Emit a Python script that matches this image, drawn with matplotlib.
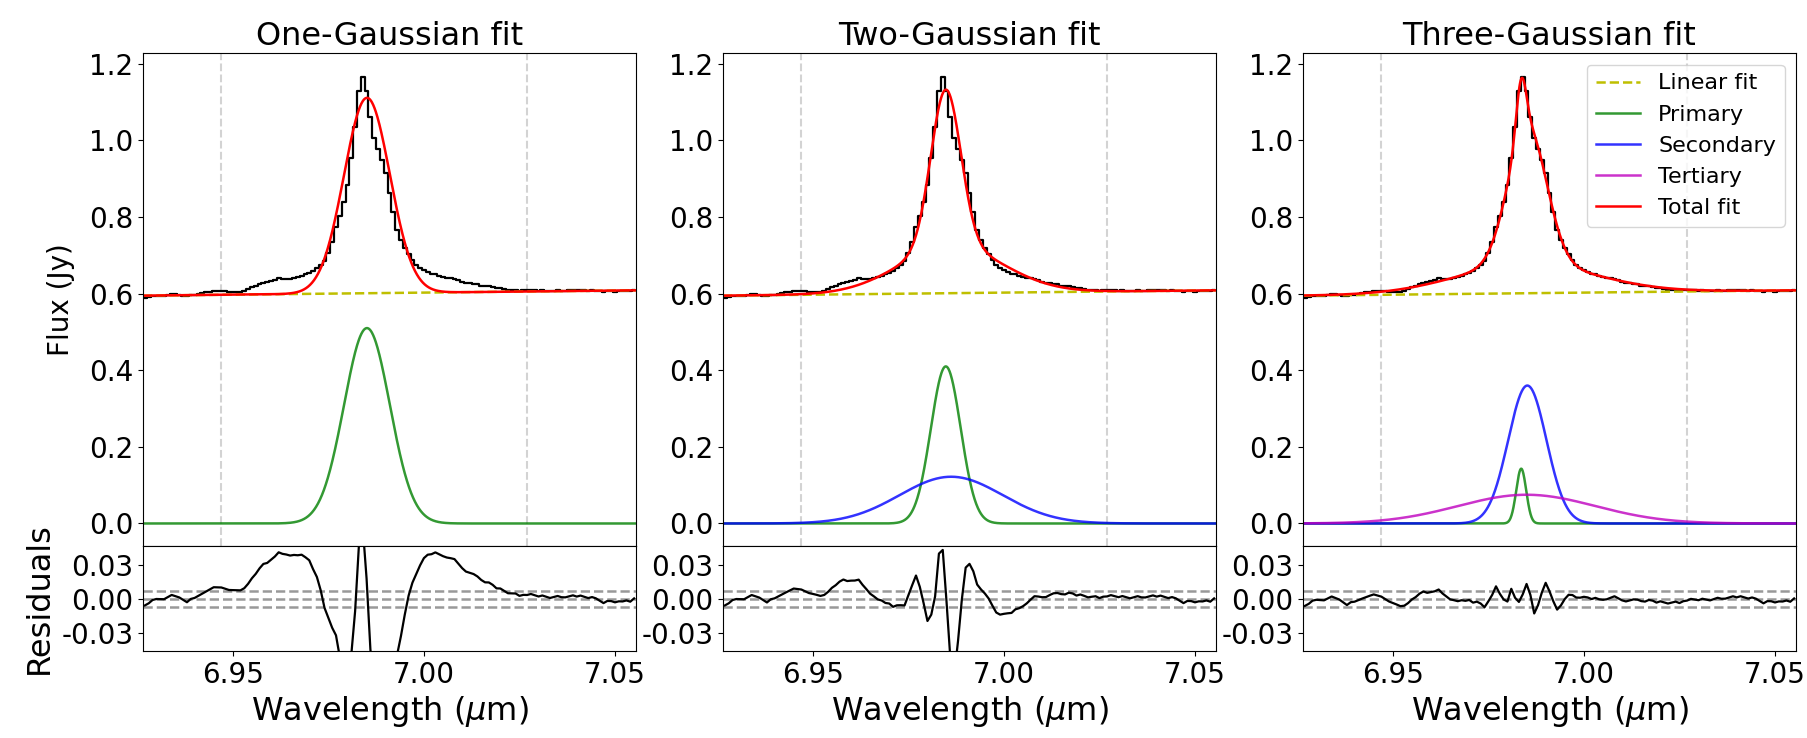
import numpy as np
import matplotlib.pyplot as plt

plt.rcParams['axes.unicode_minus'] = False

# observed spectrum (Jy), one bin per 0.001 um starting at 6.927 um
wl_start = 6.927
wl_step = 0.001
flux = [0.589, 0.591, 0.594, 0.595, 0.595, 0.595, 0.597, 0.599, 0.598, 0.597,
        0.595, 0.593, 0.596, 0.597, 0.599, 0.601, 0.603, 0.605, 0.607, 0.607,
        0.607, 0.606, 0.605, 0.605, 0.605, 0.605, 0.607, 0.611, 0.616, 0.620,
        0.625, 0.629, 0.630, 0.633, 0.636, 0.640, 0.639, 0.639, 0.639, 0.641,
        0.643, 0.647, 0.650, 0.655, 0.658, 0.666, 0.674, 0.684, 0.707, 0.736,
        0.773, 0.802, 0.838, 0.883, 0.955, 1.036, 1.128, 1.166, 1.129, 1.061,
        1.005, 0.978, 0.950, 0.915, 0.863, 0.812, 0.767, 0.739, 0.719, 0.703,
        0.688, 0.675, 0.667, 0.662, 0.657, 0.652, 0.650, 0.646, 0.643, 0.641,
        0.640, 0.639, 0.635, 0.631, 0.628, 0.627, 0.626, 0.624, 0.621, 0.619,
        0.619, 0.617, 0.614, 0.614, 0.612, 0.610, 0.610, 0.610, 0.608, 0.609,
        0.609, 0.610, 0.609, 0.608, 0.609, 0.608, 0.607, 0.608, 0.609, 0.608,
        0.608, 0.609, 0.610, 0.609, 0.610, 0.609, 0.608, 0.609, 0.608, 0.606,
        0.604, 0.606, 0.606, 0.605, 0.606, 0.606, 0.607, 0.606, 0.609]

# linear continuum: level at 6.985 um (Jy) and slope (Jy/um)
cont_level = 0.601
cont_slope = 0.108
cont_pivot = 6.985

# gaussian components: (amplitude Jy, centre um, sigma um)
fit_one = [(0.51, 6.9851, 0.0060)]
fit_two = [(0.41, 6.9848, 0.0039), (0.122, 6.9862, 0.0135)]
fit_three = [(0.143, 6.9836, 0.0013), (0.36, 6.9852, 0.0050), (0.075, 6.9850, 0.0180)]

titles = ['One-Gaussian fit', 'Two-Gaussian fit', 'Three-Gaussian fit']
comp_names = ['Primary', 'Secondary', 'Tertiary']
comp_colors = ['g', 'b', 'm']
fit_window = [6.947, 7.027]
noise_level = 0.007


def gauss(x, amp, mu, sig):
    return amp * np.exp(-0.5 * ((x - mu) / sig) ** 2)


def linear(x):
    return cont_level + cont_slope * (x - cont_pivot)


wl = wl_start + wl_step * np.arange(len(flux))
flux = np.array(flux)
xlim = (wl[0] - wl_step / 2, wl[-1] + wl_step / 2)
wl_fine = np.linspace(xlim[0], xlim[1], 1500)

fig = plt.figure(figsize=(18.08, 7.38), dpi=100)
lefts = [143, 723, 1303]
W, H = 1808.0, 738.0

for k, comps in enumerate([fit_one, fit_two, fit_three]):
    ax = fig.add_axes([lefts[k] / W, 1 - 545.7 / H, 493 / W, 492.3 / H])
    axr = fig.add_axes([lefts[k] / W, 1 - 651 / H, 493 / W, 105.3 / H])

    for xv in fit_window:
        ax.axvline(xv, color='#d3d3d3', ls='--', lw=1.5)

    ax.step(wl, flux, where='mid', color='k', lw=1.6)
    ax.plot(wl_fine, linear(wl_fine), color='y', ls='--', lw=1.8, label='Linear fit')
    total = linear(wl_fine)
    model = linear(wl)
    for i, (a, m, s) in enumerate(comps):
        ax.plot(wl_fine, gauss(wl_fine, a, m, s), color=comp_colors[i], lw=1.8,
                alpha=0.8, label=comp_names[i])
        total = total + gauss(wl_fine, a, m, s)
        model = model + gauss(wl, a, m, s)
    ax.plot(wl_fine, total, color='r', lw=1.8, label='Total fit')

    ax.set_xlim(xlim)
    ax.set_ylim(-0.058, 1.227)
    ax.set_yticks([0.0, 0.2, 0.4, 0.6, 0.8, 1.0, 1.2])
    ax.set_yticklabels(['%.1f' % v for v in [0.0, 0.2, 0.4, 0.6, 0.8, 1.0, 1.2]])
    ax.tick_params(labelsize=20, bottom=False, labelbottom=False)
    ax.set_title(titles[k], fontsize=23)

    # residuals = data minus total model at the data bins
    resid = flux - model
    for yv in [-noise_level, 0, noise_level]:
        axr.axhline(yv, color='#999999', ls='--', lw=1.8)
    axr.plot(wl, resid, color='k', lw=1.6)
    axr.set_xlim(xlim)
    axr.set_ylim(-0.046, 0.047)
    axr.set_yticks([-0.03, 0.0, 0.03])
    axr.set_yticklabels(['-0.03', '0.00', '0.03'])
    axr.set_xticks([6.95, 7.00, 7.05])
    axr.set_xticklabels(['6.95', '7.00', '7.05'])
    axr.tick_params(labelsize=20)
    axr.set_xlabel(r'Wavelength ($\mu$m)', fontsize=23)

    if k == 0:
        ax.set_ylabel('Flux (Jy)', fontsize=20)
        ax.yaxis.set_label_coords(-0.137, 0.5)
        axr.set_ylabel('Residuals', fontsize=23)
        axr.yaxis.set_label_coords(-0.178, 0.5)
    if k == 2:
        ax.legend(loc='upper right', fontsize=16)

plt.savefig('out.png', dpi=100)
